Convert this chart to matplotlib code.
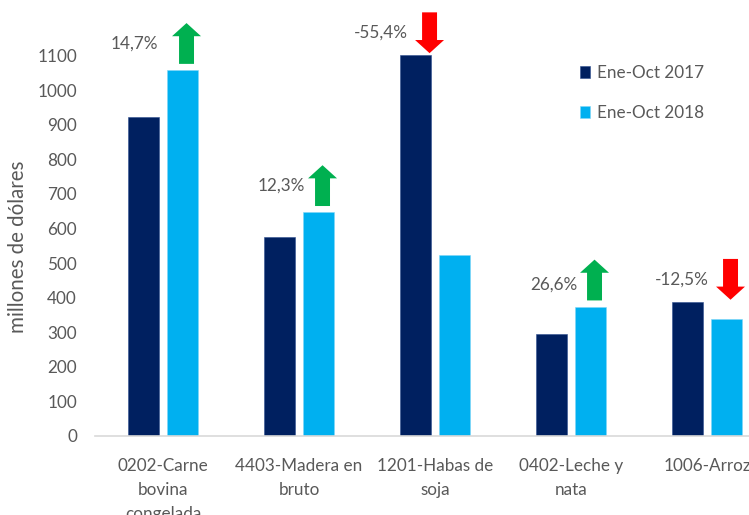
import matplotlib
matplotlib.use("Agg")
import matplotlib.pyplot as plt
import matplotlib.patches as mpatches
import numpy as np

categories = ["0202-Carne\nbovina\ncongelada", "4403-Madera en\nbruto", "1201-Habas de\nsoja",
              "0402-Leche y\nnata", "1006-Arroz"]
values_2017 = [922, 575, 1101, 294, 388]
values_2018 = [1058, 647, 524, 374, 337]
pct_labels = ["14,7%", "12,3%", "-55,4%", "26,6%", "-12,5%"]
series_names = ["Ene-Oct 2017", "Ene-Oct 2018"]

C17 = "#002060"
C18 = "#00B0F0"
GREEN = "#00B050"
RED = "#FF0000"
TXT = "#595959"

plt.rcParams['font.family'] = ['Lato', 'DejaVu Sans']
FS = 12.3

fig = plt.figure(figsize=(7.49, 5.15), dpi=100)
ax = fig.add_axes([95 / 749, 79 / 515, 680 / 749, 415 / 515])

x = np.arange(len(categories))
w = 0.222
off = 0.143
ax.bar(x - off, values_2017, w, color=C17, label=series_names[0], edgecolor="#2F4F8F", linewidth=0.4)
ax.bar(x + off, values_2018, w, color=C18, label=series_names[1], edgecolor="#7FD6F7", linewidth=0.4)

ax.set_xlim(-0.5, len(categories) - 0.5)
ax.set_ylim(0, 1200)
ax.set_yticks(np.arange(0, 1101, 100))
ax.set_xticks(x)
ax.set_xticklabels(categories, fontsize=FS, color=TXT, linespacing=1.62)
ax.tick_params(axis='y', length=0, pad=13, labelsize=FS, labelcolor=TXT)
ax.tick_params(axis='x', length=0, pad=16)
for s in ["top", "right", "left"]:
    ax.spines[s].set_visible(False)
ax.spines["bottom"].set_color("#D9D9D9")
ax.spines["bottom"].set_linewidth(1.2)
ax.set_ylabel("millones de dólares", fontsize=14.8, color=TXT)
ax.yaxis.set_label_coords(-67 / 680, 0.455)

# change arrows
arrow_len = 118
head_len = 38
for i, (v17, v18, lab) in enumerate(zip(values_2017, values_2018, pct_labels)):
    up = v18 >= v17
    if up:
        ax_x = i + off + 0.03
        y0 = v18 + 18
        y1 = y0 + arrow_len
        color = GREEN
        lab_dx = 0.1 if i == 0 else 0.02
    else:
        ax_x = i + (off + 0.03 if v17 < 800 else -0.04)
        y1 = max(v17, v18) + 6
        y0 = y1 + arrow_len
        color = RED
        lab_dx = 0.05
    arr = mpatches.FancyArrow(ax_x, y0, 0, y1 - y0, width=0.11, head_width=0.213,
                              head_length=head_len, length_includes_head=True,
                              color=color, clip_on=False, linewidth=0)
    ax.add_patch(arr)
    ax.text(ax_x - 0.107 - lab_dx, (y0 + y1) / 2 - (12 if i == 3 else 0), lab,
            ha='right', va='center', fontsize=FS, color=TXT)

leg = ax.legend(loc='upper left', bbox_to_anchor=(571 / 749, 1 - 56 / 515),
                bbox_transform=fig.transFigure, frameon=False, fontsize=FS,
                handlelength=0.6, handleheight=0.7, handletextpad=0.45,
                labelspacing=1.45, borderpad=0)
for t in leg.get_texts():
    t.set_color(TXT)

fig.savefig("out.png", dpi=100)
